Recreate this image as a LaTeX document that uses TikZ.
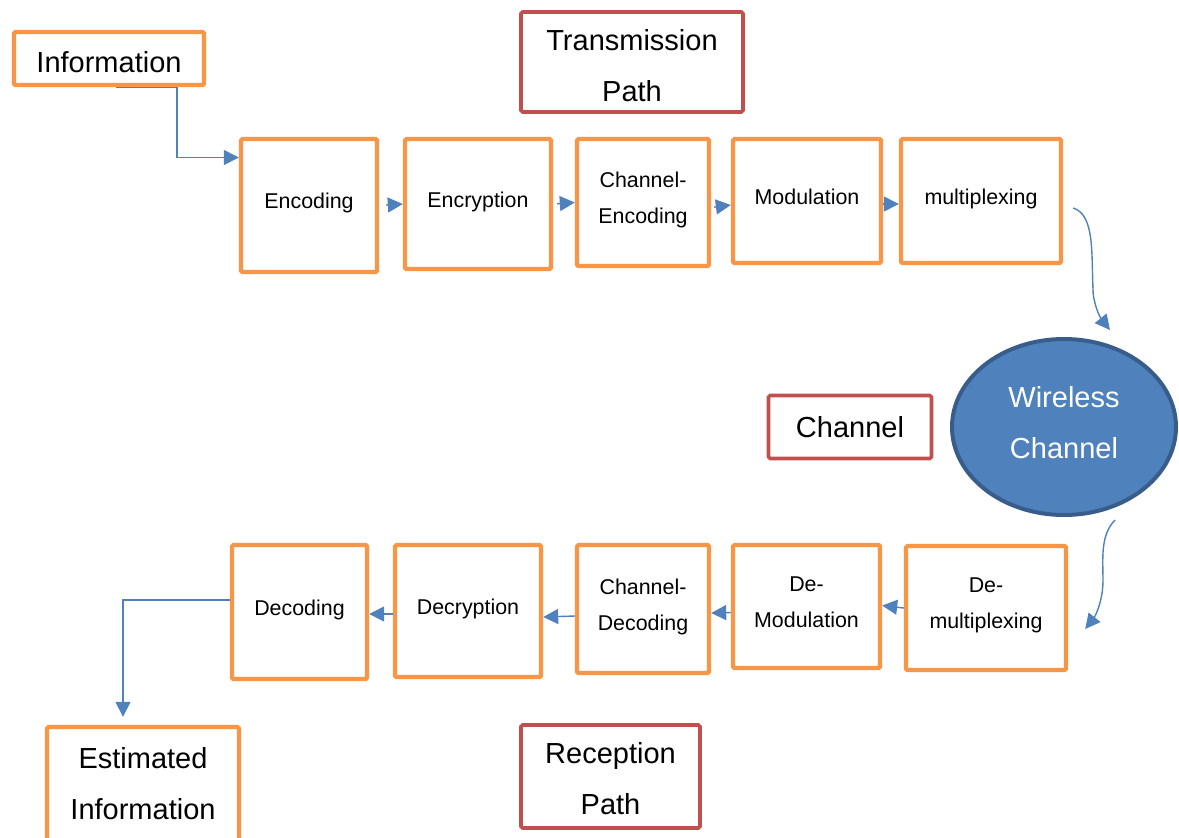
\documentclass[tikz,border=0pt]{standalone}
\usepackage{fontspec}
\setmainfont{Liberation Sans}
\usetikzlibrary{arrows.meta,shapes.geometric}
\definecolor{boxorange}{HTML}{F79646}
\definecolor{boxred}{HTML}{C0504D}
\definecolor{linkblue}{HTML}{4F81BD}
\definecolor{ellborder}{HTML}{385D8A}
\tikzset{
  bigtext/.style={font=\fontsize{14.5}{25.5}\selectfont, align=center},
  smalltext/.style={font=\fontsize{10.7}{18}\selectfont, align=center, execute at end node={\rule[-4.5pt]{0pt}{0pt}}},
  obox/.style={draw=boxorange, line width=2.2pt, rounded corners=0.8pt, fill=white, inner sep=0pt},
  rbox/.style={draw=boxred, line width=1.8pt, rounded corners=0.8pt, fill=white, inner sep=0pt, bigtext},
  arr/.style={draw=linkblue, line width=0.7pt, -{Triangle[length=7.5pt,width=7.5pt]}},
}
\begin{document}
\begin{tikzpicture}[x=0.5pt,y=-0.5pt]
\useasboundingbox (0,0) rectangle (1179,837);
% top
\node[obox,bigtext,minimum width=95pt,minimum height=26.5pt] (info) at (109,58.5) {\rule{0pt}{14pt}Information};
\node[rbox,minimum width=111pt,minimum height=50pt] (tp) at (632,62) {\rule{0pt}{14pt}Transmission\\Path};
\node[obox,smalltext,minimum width=68pt,minimum height=66.5pt] (enc) at (309,205.5) {Encoding};
\node[obox,smalltext,minimum width=73pt,minimum height=65pt] (encr) at (478,204) {Encryption};
\node[obox,smalltext,minimum width=66pt,minimum height=63.5pt] (chenc) at (643,202.5) {Channel-\\Encoding};
\node[obox,smalltext,minimum width=74pt,minimum height=62pt] (mod) at (807,201) {Modulation};
\node[obox,smalltext,minimum width=80pt,minimum height=62pt] (mux) at (981,201) {multiplexing};
% middle
\node[rbox,minimum width=81.5pt,minimum height=31.5pt] (chan) at (850,427) {Channel};
\node[ellipse,draw=ellborder,line width=2pt,fill=linkblue,text=white,bigtext,inner sep=0pt,minimum width=112pt,minimum height=88pt] (wc) at (1064,427) {Wireless\\Channel\rule[-5pt]{0pt}{0pt}};
% bottom
\node[obox,smalltext,minimum width=67.5pt,minimum height=67pt] (dec) at (299.5,612) {Decoding};
\node[obox,smalltext,minimum width=73pt,minimum height=66pt] (decr) at (468,611) {Decryption};
\node[obox,smalltext,minimum width=66pt,minimum height=64pt] (chdec) at (643,609) {Channel-\\Decoding};
\node[obox,smalltext,minimum width=73.5pt,minimum height=61.5pt] (demod) at (806.5,606.5) {De-\\Modulation};
\node[obox,smalltext,minimum width=80pt,minimum height=62pt] (demux) at (986,608) {De-\\multiplexing};
\node[obox,bigtext,minimum width=96pt,minimum height=57pt] (est) at (143,784) {Estimated\\Information};
\node[rbox,minimum width=89.5pt,minimum height=51.5pt] (rp) at (610.5,776.5) {\rule{0pt}{13pt}Reception\\Path};
% connectors
\draw[arr] ([xshift=3.5pt]info.south) -- ++(30.5pt,0) |- ([yshift=24pt]enc.west);
\draw[arr,shorten <=3.5pt] (enc.east) -- (encr.west);
\draw[arr,shorten <=2pt] (encr.east) -- (chenc.west);
\draw[arr,shorten <=1.5pt] ([yshift=-2.5pt]chenc.east) -- ([yshift=-2pt]mod.west);
\draw[arr,shorten <=0pt] ([yshift=-1.5pt]mod.east) -- ([yshift=-1.5pt]mux.west);
\draw[arr] ([shift={(5pt,-3.5pt)}]mux.east) .. controls +(11pt,-3.5pt) and +(-1pt,20pt) .. ++(10pt,-43pt) .. controls +(1pt,-8pt) and +(-4pt,5pt) .. ([shift={(23pt,3.5pt)}]wc.north);
\draw[arr] ([shift={(25.5pt,-1.5pt)}]wc.south) .. controls +(-7.5pt,-7.5pt) and +(0pt,10pt) .. ++(-6pt,-30pt) .. controls +(0pt,-12pt) and +(4pt,5pt) .. ([shift={(8.5pt,-10.5pt)}]demux.east);
\draw[arr] (demux.west) -- ([yshift=0.5pt]demod.east);
\draw[arr] ([yshift=-3pt]demod.west) -- ([yshift=-2pt]chdec.east);
\draw[arr] ([yshift=-3.5pt]chdec.west) -- ([yshift=-3pt]decr.east);
\draw[arr] ([yshift=-1.5pt]decr.west) -- ([yshift=-1pt]dec.east);
\draw[arr,shorten >=4pt] ([yshift=6pt]dec.west) -| ([xshift=-10pt]est.north);
\end{tikzpicture}
\end{document}
